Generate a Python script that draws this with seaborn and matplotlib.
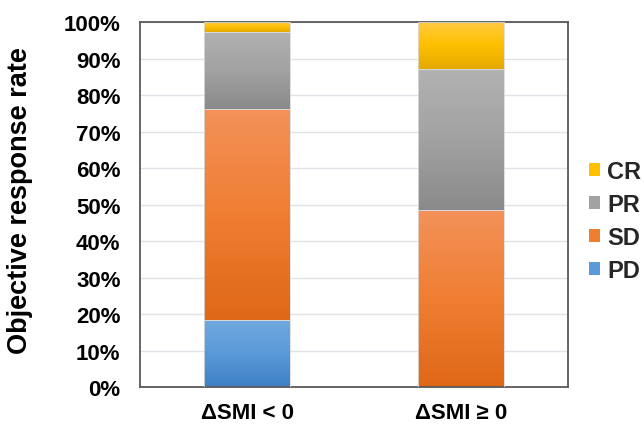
import numpy as np
import pandas as pd
import matplotlib
matplotlib.use("Agg")
import matplotlib.pyplot as plt
from matplotlib.colors import LinearSegmentedColormap, to_rgb
from matplotlib.patches import Patch
import seaborn as sns

# Response categories and share of patients (%) per ΔSMI group
groups = ["ΔSMI < 0", "ΔSMI ≥ 0"]
responses = ["PD", "SD", "PR", "CR"]
pd_pct = [18.4, 0.0]
sd_pct = [57.9, 48.4]
pr_pct = [21.1, 38.7]
cr_pct = [2.6, 12.9]
y_ticks = [0, 10, 20, 30, 40, 50, 60, 70, 80, 90, 100]

# Gradient stops (top, middle, bottom) for each response
gradients = {
    "PD": ["#72A9DE", "#5A9AD8", "#3D80C4"],
    "SD": ["#F3925A", "#F07E32", "#DF6718"],
    "PR": ["#B2B2B2", "#A2A2A2", "#8A8A8A"],
    "CR": ["#FFCB45", "#FFC000", "#E3A900"],
}

sns.set_theme(style="white")
plt.rcParams["font.family"] = ["Liberation Sans", "DejaVu Sans"]
plt.rcParams["font.weight"] = "bold"

fig = plt.figure(figsize=(6.44, 4.27), dpi=100)
ax = fig.add_axes([0.2174, 0.0913, 0.6646, 0.8548])

values = {"PD": pd_pct, "SD": sd_pct, "PR": pr_pct, "CR": cr_pct}
bottom = np.zeros(len(groups))
segments = []
for resp in responses:
    vals = np.array(values[resp])
    df = pd.DataFrame({"group": groups, "pct": vals})
    n0 = len(ax.patches)
    sns.barplot(data=df, x="group", y="pct", bottom=bottom, color=gradients[resp][1],
                width=0.4, errorbar=None, ax=ax, zorder=2, linewidth=0)
    for p in ax.patches[n0:]:
        segments.append((p, resp))
    bottom = bottom + vals

# Vertical gradient fill for every bar segment (lighter at the top)
for p, resp in segments:
    h = p.get_height()
    if h <= 0:
        p.set_visible(False)
        continue
    x0, y0, w = p.get_x(), p.get_y(), p.get_width()
    cmap = LinearSegmentedColormap.from_list(resp, [to_rgb(c) for c in gradients[resp]])
    grad = np.linspace(0, 1, 256).reshape(-1, 1)
    im = ax.imshow(grad, cmap=cmap, extent=[x0, x0 + w, y0, y0 + h], origin="upper",
                   aspect="auto", zorder=2.5, interpolation="bilinear")
    im.set_clip_path(p)
    p.set_facecolor("none")
    p.set_edgecolor("#DADADA")
    p.set_linewidth(0.6)
    p.set_zorder(3)

ax.set_xlim(-0.5, 1.5)
ax.set_ylim(0, 100)
ax.set_yticks(y_ticks)
ax.set_yticklabels([f"{t}%" for t in y_ticks])
ax.yaxis.grid(True, color="#E2E2EA", linewidth=1.0, zorder=0)
ax.xaxis.grid(False)
ax.set_axisbelow(True)
for s in ax.spines.values():
    s.set_visible(True)
    s.set_color("#595959")
    s.set_linewidth(1.3)

ax.tick_params(axis="y", length=0, pad=14, labelsize=16, labelcolor="black")
ax.tick_params(axis="x", length=0, pad=11, labelsize=16, labelcolor="black")
for lbl in ax.get_xticklabels() + ax.get_yticklabels():
    lbl.set_fontweight("bold")

ax.set_xlabel("")
ax.set_ylabel("Objective response rate", fontsize=19.5, fontweight="bold", color="black")
ax.yaxis.set_label_coords(-0.25, 0.514)

handles = [Patch(facecolor=gradients[r][1], edgecolor="none", label=r) for r in reversed(responses)]
fig.legend(handles=handles, loc="center left", bbox_to_anchor=(0.914, 0.48), frameon=False,
           prop={"weight": "bold", "size": 17}, handlelength=0.48, handleheight=0.48,
           handletextpad=0.3, labelspacing=0.42, borderaxespad=0, borderpad=0)

fig.savefig("out.png", dpi=100)
